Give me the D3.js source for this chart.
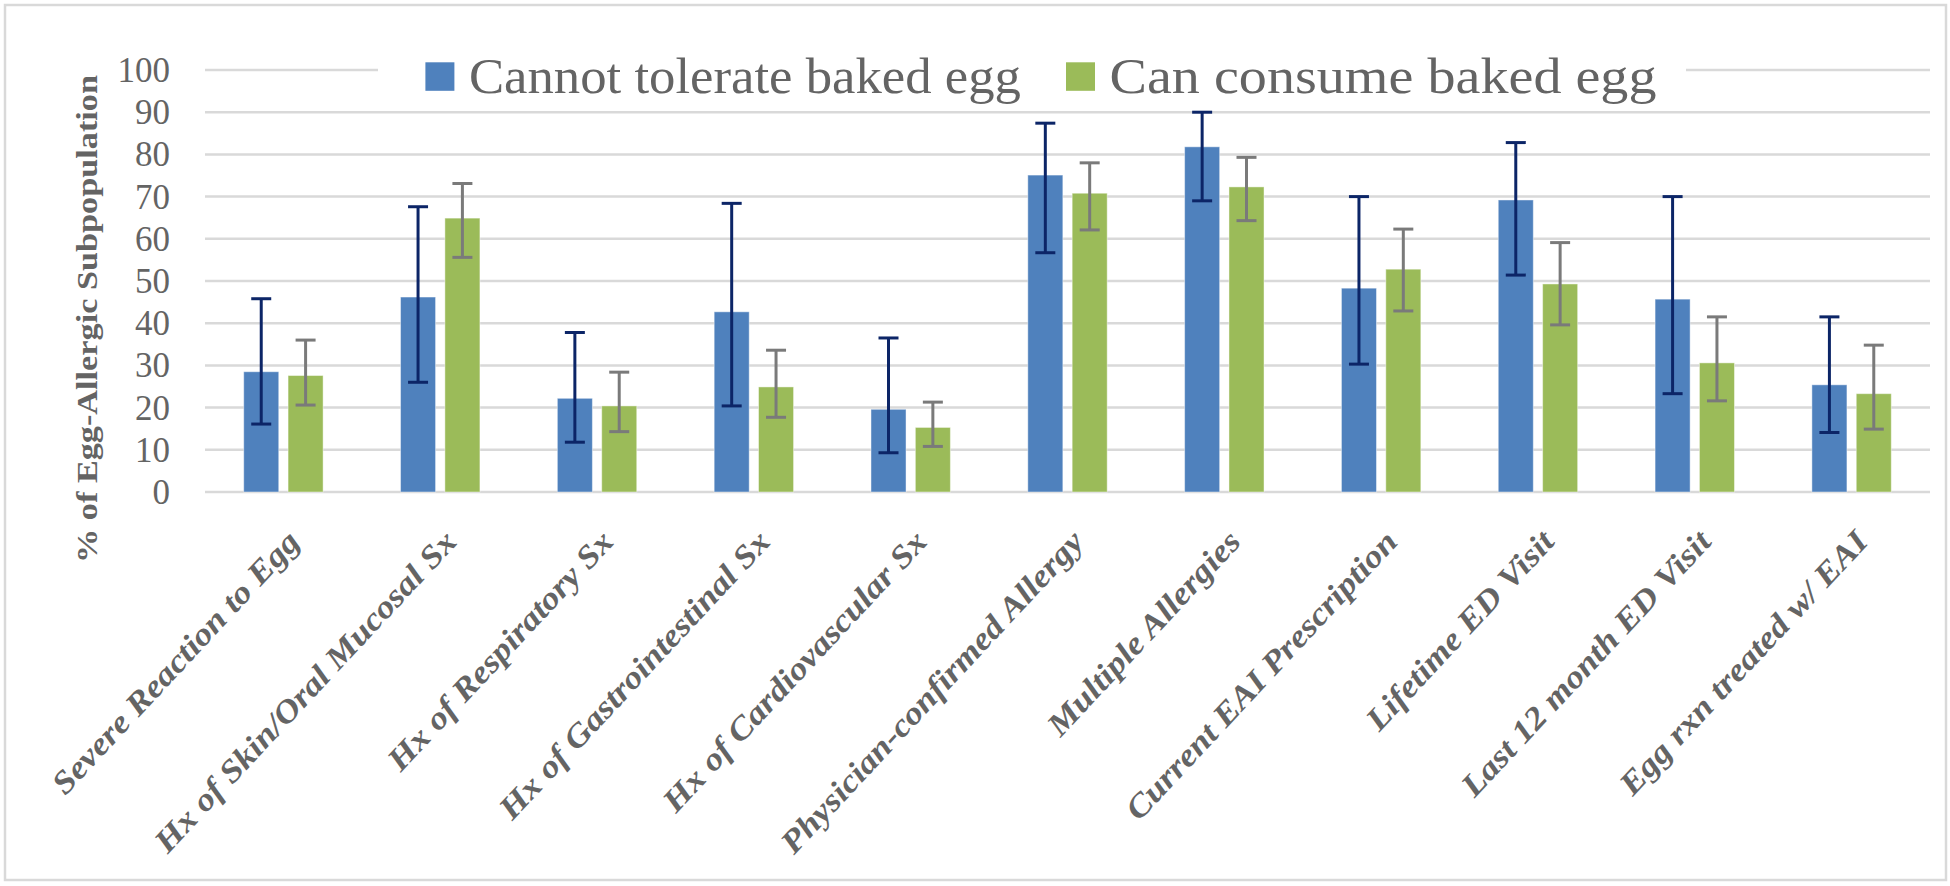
<!DOCTYPE html>
<html>
<head>
<meta charset="utf-8">
<script src="https://cdnjs.cloudflare.com/ajax/libs/d3/7.8.5/d3.min.js"></script>
<style>
  html, body { margin: 0; padding: 0; background: #fff; }
  svg { display: block; font-family: "Liberation Serif", "DejaVu Serif", serif; }
</style>
</head>
<body>
<div id="chart"></div>
<script>
const categories = [
  "Severe Reaction to Egg",
  "Hx of Skin/Oral Mucosal Sx",
  "Hx of Respiratory Sx",
  "Hx of Gastrointestinal Sx",
  "Hx of Cardiovascular Sx",
  "Physician-confirmed Allergy",
  "Multiple Allergies",
  "Current EAI Prescription",
  "Lifetime ED Visit",
  "Last 12 month ED Visit",
  "Egg rxn treated w/ EAI"
];
const seriesNames = ["Cannot tolerate baked egg", "Can consume baked egg"];

// percentages plus lower / upper ends of the error bars
const cannotValues = [28.5, 46.2, 22.2, 42.7, 19.6, 75.1, 81.8, 48.3, 69.2, 45.7, 25.4];
const cannotLow = [16.1, 26.0, 11.8, 20.4, 9.3, 56.7, 69.0, 30.3, 51.4, 23.3, 14.1];
const cannotHigh = [45.8, 67.6, 37.8, 68.4, 36.5, 87.4, 90.0, 70.0, 82.8, 70.0, 41.5];

const canValues = [27.6, 64.9, 20.4, 24.9, 15.3, 70.8, 72.3, 52.8, 49.3, 30.6, 23.3];
const canLow = [20.6, 55.6, 14.3, 17.7, 10.8, 62.1, 64.3, 42.9, 39.6, 21.6, 14.9];
const canHigh = [36.0, 73.1, 28.4, 33.6, 21.3, 78.0, 79.3, 62.3, 59.1, 41.5, 34.8];

const yTicks = [0, 10, 20, 30, 40, 50, 60, 70, 80, 90, 100];
const yTitle = "% of Egg-Allergic Subpopulation";

const width = 1950;
const height = 886;
const plot = { left: 205, right: 1930, top: 70, bottom: 492 };
const barColors = ["#4f81bd", "#9bbb59"];
const errColors = ["#0c2567", "#7a7a7a"];
const textColor = "#646464";
const gridColor = "#d9d9d9";

// one row per category and series, built from the arrays above
const rows = [];
categories.forEach((c, i) => {
  rows.push({ cat: c, s: 0, value: cannotValues[i], low: cannotLow[i], high: cannotHigh[i] });
  rows.push({ cat: c, s: 1, value: canValues[i], low: canLow[i], high: canHigh[i] });
});

const svg = d3
  .select("#chart")
  .append("svg")
  .attr("width", width)
  .attr("height", height);

svg
  .append("rect")
  .attr("width", width)
  .attr("height", height)
  .attr("fill", "#fff");

// outer frame
svg
  .append("rect")
  .attr("x", 5)
  .attr("y", 5)
  .attr("width", 1941)
  .attr("height", 875)
  .attr("fill", "none")
  .attr("stroke", gridColor)
  .attr("stroke-width", 2.5);

const x0 = d3
  .scaleBand()
  .domain(categories)
  .range([plot.left, plot.right])
  .padding(0);

const x1 = d3
  .scaleBand()
  .domain([0, 1])
  .range([-39.7, 39.7])
  .paddingInner(0.21);

const yScale = d3
  .scaleLinear()
  .domain([0, 100])
  .range([plot.bottom, plot.top]);

const center = c => x0(c) + x0.bandwidth() / 2;

// gridlines
svg
  .append("g")
  .selectAll("line")
  .data(yTicks)
  .enter()
  .append("line")
  .attr("x1", plot.left)
  .attr("x2", plot.right)
  .attr("y1", d => yScale(d))
  .attr("y2", d => yScale(d))
  .attr("stroke", gridColor)
  .attr("stroke-width", 2.5);

// y tick labels
svg
  .append("g")
  .selectAll("text")
  .data(yTicks)
  .enter()
  .append("text")
  .attr("x", 170)
  .attr("y", d => yScale(d))
  .attr("dy", "0.34em")
  .attr("text-anchor", "end")
  .attr("fill", textColor)
  .style("font-size", "35px")
  .text(d => d);

// y axis title
svg
  .append("text")
  .attr("transform", "translate(97,319) rotate(-90)")
  .attr("text-anchor", "middle")
  .attr("fill", textColor)
  .attr("textLength", 488)
  .attr("lengthAdjust", "spacingAndGlyphs")
  .style("font-size", "30px")
  .style("font-weight", "bold")
  .text(yTitle);

// bars
svg
  .append("g")
  .selectAll("rect")
  .data(rows)
  .enter()
  .append("rect")
  .attr("x", d => center(d.cat) + x1(d.s))
  .attr("y", d => yScale(d.value))
  .attr("width", x1.bandwidth())
  .attr("height", d => yScale(0) - yScale(d.value))
  .attr("fill", d => barColors[d.s])
  .attr("stroke", "#ffffff")
  .attr("stroke-opacity", 0.45)
  .attr("stroke-width", 1);

// error bars
const errs = svg
  .append("g")
  .selectAll("g")
  .data(rows)
  .enter()
  .append("g")
  .attr("stroke", d => errColors[d.s])
  .attr("stroke-width", 3);

const errX = d => center(d.cat) + x1(d.s) + x1.bandwidth() / 2;

errs
  .append("line")
  .attr("x1", errX)
  .attr("x2", errX)
  .attr("y1", d => yScale(d.low))
  .attr("y2", d => yScale(d.high));

errs
  .selectAll(".cap")
  .data(d => [d.low, d.high].map(v => ({ x: errX(d), v: v })))
  .enter()
  .append("line")
  .attr("class", "cap")
  .attr("x1", d => d.x - 10)
  .attr("x2", d => d.x + 10)
  .attr("y1", d => yScale(d.v))
  .attr("y2", d => yScale(d.v));

// category labels, slanted
svg
  .append("g")
  .selectAll("text")
  .data(categories)
  .enter()
  .append("text")
  .attr("transform", d => "translate(" + (center(d) + 18) + ",543) rotate(-47) scale(1.13,1)")
  .attr("text-anchor", "end")
  .attr("fill", textColor)
  .style("font-size", "32px")
  .style("font-weight", "bold")
  .style("font-style", "italic")
  .text(d => d);

// legend, sits on top of the 100 gridline
svg
  .append("rect")
  .attr("x", 378)
  .attr("y", 58)
  .attr("width", 1686 - 378)
  .attr("height", 30)
  .attr("fill", "#fff");

const legendX = [425.4, 1066];
const legendLen = [552, 547];

const legend = svg
  .append("g")
  .selectAll("g")
  .data(seriesNames)
  .enter()
  .append("g");

legend
  .append("rect")
  .attr("x", (d, i) => legendX[i])
  .attr("y", 62.3)
  .attr("width", 29)
  .attr("height", 28.5)
  .attr("fill", (d, i) => barColors[i]);

legend
  .append("text")
  .attr("x", (d, i) => legendX[i] + 43.5)
  .attr("y", 93)
  .attr("fill", textColor)
  .attr("textLength", (d, i) => legendLen[i])
  .attr("lengthAdjust", "spacingAndGlyphs")
  .style("font-size", "50px")
  .text(d => d);
</script>
</body>
</html>
